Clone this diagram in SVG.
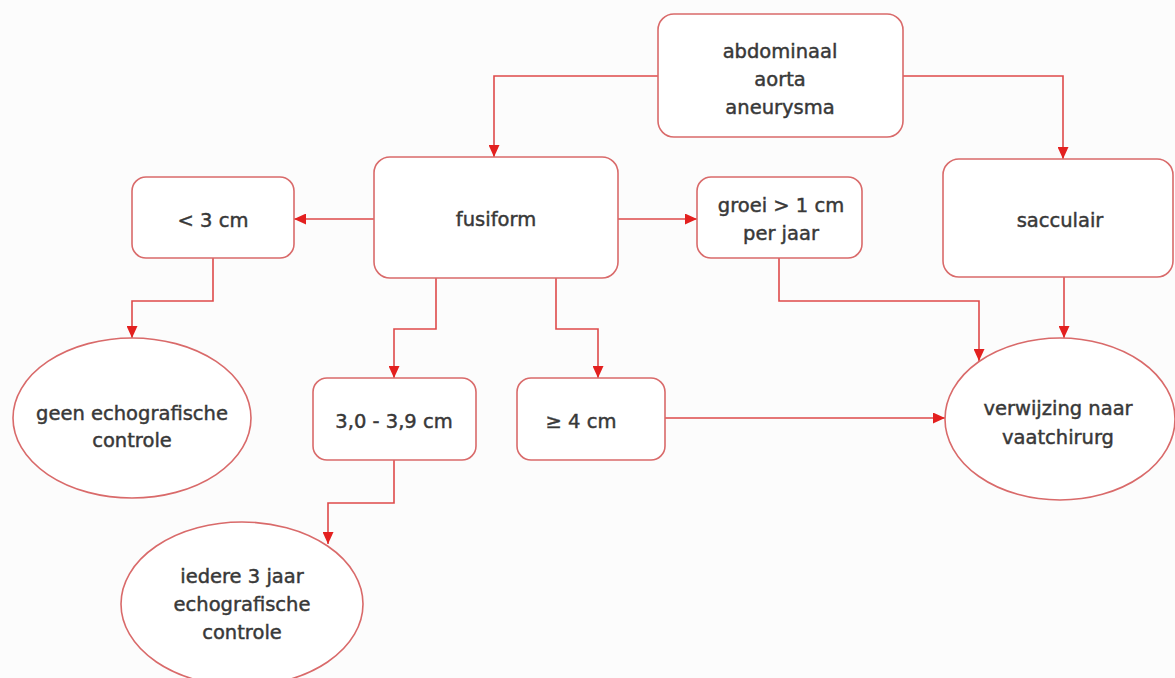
<svg xmlns="http://www.w3.org/2000/svg" width="1175" height="678" viewBox="0 0 1175 678">
  <defs>
    <marker id="arr" markerUnits="userSpaceOnUse" markerWidth="12" markerHeight="11" viewBox="0 0 12 11" refX="12" refY="5.5" orient="auto">
      <path d="M0,0 L12,5.5 L0,11 z" fill="#e3201f"/>
    </marker>
    <style>
      .box { fill: #ffffff; stroke: #d96a6a; stroke-width: 1.6; }
      .conn { fill: none; stroke: #de4a4a; stroke-width: 1.6; marker-end: url(#arr); }
      .t { font-family: "DejaVu Sans", "Liberation Sans", sans-serif; font-size: 19.5px; fill: #383838; stroke: #383838; stroke-width: 0.45; text-anchor: middle; }
    </style>
  </defs>
  <rect x="0" y="0" width="1175" height="678" fill="#fcfcfc"/>

  <g id="connectors">
    <path class="conn" d="M658,76 H494 V157"/>
    <path class="conn" d="M903,76 H1063 V159"/>
    <path class="conn" d="M374,219 H294"/>
    <path class="conn" d="M618,219 H697"/>
    <path class="conn" d="M213,258 V301 H132 V338"/>
    <path class="conn" d="M436,278 V329 H394 V378"/>
    <path class="conn" d="M556,278 V329 H598 V378"/>
    <path class="conn" d="M779,258 V301 H979 V361"/>
    <path class="conn" d="M1064,277 V338"/>
    <path class="conn" d="M665,418 H945"/>
    <path class="conn" d="M394,460 V503 H328 V544"/>
  </g>

  <g id="node-aaa">
    <rect class="box" x="658" y="14" width="245" height="123" rx="16"/>
    <text class="t" x="780" y="58">abdominaal</text>
    <text class="t" x="780" y="86">aorta</text>
    <text class="t" x="780" y="114">aneurysma</text>
  </g>

  <g id="node-fusiform">
    <rect class="box" x="374" y="157" width="244" height="121" rx="16"/>
    <text class="t" x="496" y="226">fusiform</text>
  </g>

  <g id="node-lt3">
    <rect class="box" x="132" y="177" width="162" height="81" rx="14"/>
    <text class="t" x="213" y="227">&lt; 3 cm</text>
  </g>

  <g id="node-groei">
    <rect class="box" x="697" y="177" width="165" height="81" rx="14"/>
    <text class="t" x="781" y="212">groei &gt; 1 cm</text>
    <text class="t" x="781" y="240">per jaar</text>
  </g>

  <g id="node-sacculair">
    <rect class="box" x="943" y="159" width="230" height="118" rx="16"/>
    <text class="t" x="1060" y="227">sacculair</text>
  </g>

  <g id="node-geen">
    <ellipse class="box" cx="132" cy="418" rx="119" ry="80"/>
    <text class="t" x="132" y="420">geen echografische</text>
    <text class="t" x="132" y="447">controle</text>
  </g>

  <g id="node-3039">
    <rect class="box" x="313" y="378" width="163" height="82" rx="14"/>
    <text class="t" x="394" y="428">3,0 - 3,9 cm</text>
  </g>

  <g id="node-ge4">
    <rect class="box" x="517" y="378" width="148" height="82" rx="14"/>
    <text class="t" x="581" y="428">≥ 4 cm</text>
  </g>

  <g id="node-verwijzing">
    <ellipse class="box" cx="1060" cy="419" rx="115" ry="81"/>
    <text class="t" x="1058" y="415">verwijzing naar</text>
    <text class="t" x="1058" y="444">vaatchirurg</text>
  </g>

  <g id="node-iedere">
    <ellipse class="box" cx="242" cy="604" rx="121" ry="82"/>
    <text class="t" x="242" y="583">iedere 3 jaar</text>
    <text class="t" x="242" y="611">echografische</text>
    <text class="t" x="242" y="639">controle</text>
  </g>
</svg>
